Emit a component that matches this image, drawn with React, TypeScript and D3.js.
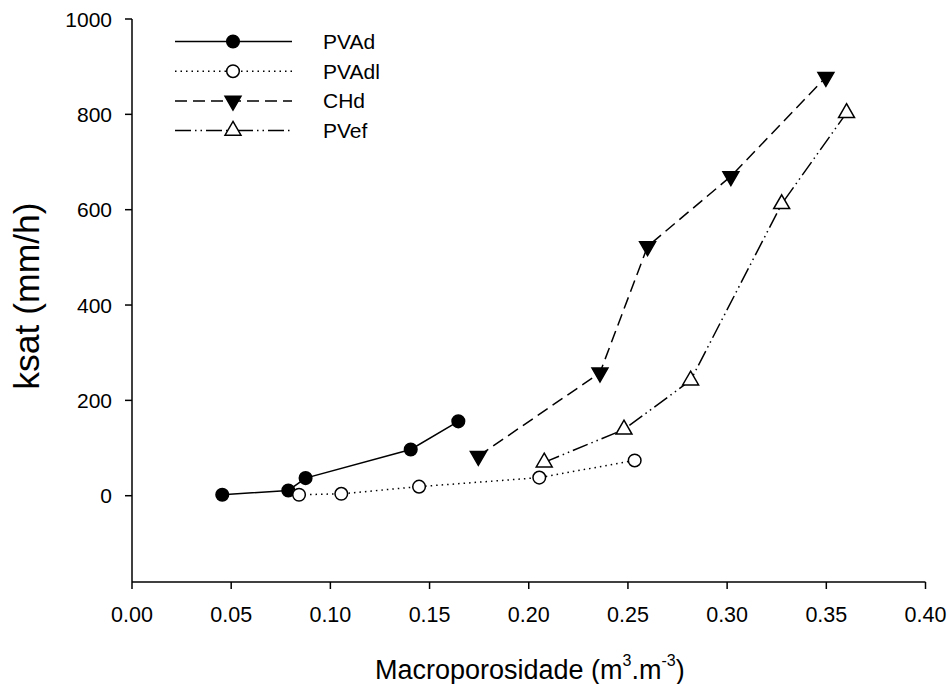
import React from "react";
import * as d3 from "d3";

const seriesNames = ["PVAd", "PVAdl", "CHd", "PVef"];
const pvadX = [0.0455, 0.0788, 0.0875, 0.1405, 0.1645];
const pvadY = [2, 11, 37, 97, 156];
const pvadlX = [0.0842, 0.1055, 0.1447, 0.2053, 0.2534];
const pvadlY = [2, 4, 19, 38, 74];
const chdX = [0.1746, 0.2359, 0.2599, 0.3019, 0.3498];
const chdY = [83, 258, 523, 670, 878];
const pvefX = [0.2078, 0.248, 0.2816, 0.3275, 0.3602];
const pvefY = [70, 139, 242, 612, 803];
const xTicks = [0, 0.05, 0.1, 0.15, 0.2, 0.25, 0.3, 0.35, 0.4];
const yTicks = [0, 200, 400, 600, 800, 1000];

const W = 948;
const H = 684;
const FONT = "'Liberation Sans', Arial, sans-serif";

type Pt = [number, number];

const series = [
  { name: seriesNames[0], xs: pvadX, ys: pvadY, dash: "none", marker: "circle", fill: "#000" },
  { name: seriesNames[1], xs: pvadlX, ys: pvadlY, dash: "1.5,4", marker: "circle", fill: "#fff" },
  { name: seriesNames[2], xs: chdX, ys: chdY, dash: "12,6", marker: "down", fill: "#000" },
  { name: seriesNames[3], xs: pvefX, ys: pvefY, dash: "16,4,1.5,4,1.5,4", marker: "up", fill: "#fff" },
];

function Marker({ kind, x, y, fill }: { kind: string; x: number; y: number; fill: string }) {
  if (kind === "circle") {
    return <circle cx={x} cy={y} r={6.3} fill={fill} stroke="#000" strokeWidth={1.5} />;
  }
  const tri = d3.symbol().type(d3.symbolTriangle).size(110)();
  const rot = kind === "down" ? 180 : 0;
  return (
    <path
      d={tri || ""}
      transform={`translate(${x},${y}) rotate(${rot})`}
      fill={fill}
      stroke="#000"
      strokeWidth={1.5}
    />
  );
}

export default function App() {
  const x = d3.scaleLinear().domain([0, 0.4]).range([132, 925.5]);
  const y = d3.scaleLinear().domain([-181, 1000]).range([582, 19]);
  const line = d3
    .line<Pt>()
    .x((d) => x(d[0]))
    .y((d) => y(d[1]));

  return (
    <svg width={W} height={H} style={{ position: "absolute", left: 0, top: 0, background: "#fff" }}>
      <g fontFamily={FONT} fill="#000">
        {/* axes */}
        <line x1={x(0)} x2={x(0)} y1={y(1000)} y2={y(-181)} stroke="#000" strokeWidth={1.5} />
        <line x1={x(0)} x2={x(0.4)} y1={y(-181)} y2={y(-181)} stroke="#000" strokeWidth={1.5} />
        {yTicks.map((t) => (
          <g key={"y" + t}>
            <line x1={x(0) - 7} x2={x(0)} y1={y(t)} y2={y(t)} stroke="#000" strokeWidth={1.5} />
            <text x={112} y={y(t)} dy="0.36em" textAnchor="end" fontSize={21}>
              {t}
            </text>
          </g>
        ))}
        {xTicks.map((t) => (
          <g key={"x" + t}>
            <line x1={x(t)} x2={x(t)} y1={y(-181)} y2={y(-181) + 7} stroke="#000" strokeWidth={1.5} />
            <text x={x(t)} y={622} textAnchor="middle" fontSize={21.5}>
              {d3.format(".2f")(t)}
            </text>
          </g>
        ))}
        <text x={375} y={679} fontSize={27}>
          Macroporosidade (m<tspan dy={-13} fontSize={16}>3</tspan>
          <tspan dy={13}>.m</tspan>
          <tspan dy={-13} fontSize={16}>-3</tspan>
          <tspan dy={13}>)</tspan>
        </text>
        <text
          transform={`translate(39,${296}) rotate(-90)`}
          textAnchor="middle"
          fontSize={35.5}
        >
          ksat (mm/h)
        </text>

        {/* series */}
        {series.map((s) => {
          const pts: Pt[] = s.xs.map((v, i) => [v, s.ys[i]]);
          return (
            <g key={s.name}>
              <path d={line(pts) || ""} fill="none" stroke="#000" strokeWidth={1.5} strokeDasharray={s.dash} />
              {pts.map((p, i) => (
                <Marker key={i} kind={s.marker} x={x(p[0])} y={y(p[1])} fill={s.fill} />
              ))}
            </g>
          );
        })}

        {/* legend */}
        {series.map((s, i) => {
          const ly = 41.5 + i * 29.7;
          return (
            <g key={"lg" + s.name}>
              <line x1={175} x2={292} y1={ly} y2={ly} stroke="#000" strokeWidth={1.5} strokeDasharray={s.dash} />
              <Marker kind={s.marker} x={233} y={ly} fill={s.fill} />
              <text x={323} y={ly} dy="0.36em" fontSize={21}>
                {s.name}
              </text>
            </g>
          );
        })}
      </g>
    </svg>
  );
}
